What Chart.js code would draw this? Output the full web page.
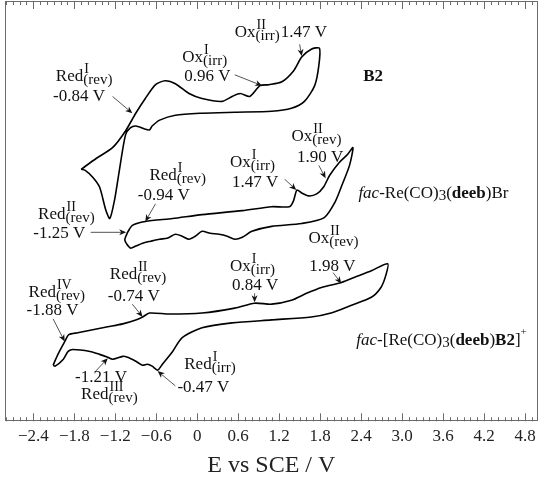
<!DOCTYPE html>
<html>
<head>
<meta charset="utf-8">
<script src="https://cdn.jsdelivr.net/npm/chart.js@4/dist/chart.umd.min.js"></script>
<style>
  body { margin: 0; background: #fff; }
  #cv { display: block; }
</style>
</head>
<body>
<canvas id="cv" width="540" height="478"></canvas>
<script>
// potentials (V vs SCE) and current (arbitrary, curves offset vertically)
var b2E = [-1.70, -1.48, -1.24, -1.05, -0.90, -0.76, -0.61, -0.47, -0.32, -0.12, 0.07, 0.36, 0.51, 0.63, 0.77, 0.92, 1.05, 1.24, 1.41, 1.53, 1.67, 1.79,
           1.78, 1.72, 1.57, 1.38, 1.09, 0.55, 0.07, -0.32, -0.55, -0.66, -0.70, -0.77, -0.90, -0.98, -1.05, -1.14, -1.21, -1.28, -1.34, -1.43, -1.53, -1.64, -1.70];
var b2I = [256, 267, 278, 295, 313, 328, 342, 346, 343, 333, 328, 325, 330, 333, 330, 341, 342, 345, 356, 370, 378, 379,
           361, 341, 325, 318, 315, 314, 313, 311, 306, 300, 296, 297, 300, 298, 291, 255, 225, 206, 215, 238, 248, 255, 256];

var brE = [-1.02, -0.95, -0.76, -0.36, 0.07, 0.66, 1.09, 1.35, 1.41, 1.46, 1.53, 1.63, 1.75, 1.85, 1.94, 2.08, 2.20, 2.28,
           2.23, 2.12, 2.02, 1.86, 1.53, 1.09, 0.80, 0.66, 0.55, 0.44, 0.32, 0.19, 0.07, -0.03, -0.12, -0.22, -0.32, -0.44, -0.55, -0.68, -0.80, -0.90, -0.98, -1.06, -1.02];
var brI = [192, 199, 203, 206, 210, 214, 218, 218, 224, 235, 232, 229, 231, 238, 250, 263, 271, 278,
           260, 240, 223, 207, 201, 198, 193, 187, 185, 188, 190, 191, 193, 188, 185, 188, 190, 186, 185, 183, 181, 178, 176, 184, 192];

var cxE = [-2.11, -2.04, -1.94, -1.88, -1.75, -1.53, -1.31, -1.09, -0.90, -0.80, -0.70, -0.41, 0.07, 0.55, 0.84, 1.09, 1.38, 1.60, 1.82, 2.11, 2.33, 2.55, 2.79,
           2.76, 2.69, 2.55, 2.26, 1.96, 1.67, 1.09, 0.51, 0.07, -0.22, -0.36, -0.51, -0.58, -0.66, -0.73, -0.80, -0.90, -1.02, -1.09, -1.24, -1.31, -1.43, -1.57, -1.82, -1.89, -1.96, -2.08, -2.11];
var cxI = [57, 68, 81, 88, 90, 93, 96, 99, 103, 106, 110, 109, 110, 115, 120, 119, 123, 130, 136, 141, 147, 153, 160,
           148, 136, 126, 118, 110, 106, 103, 100, 95, 85, 71, 58, 52, 56, 58, 57, 61, 65, 66, 63, 65, 68, 71, 73, 71, 63, 56, 57];

var majorTicks = [-2.4, -1.8, -1.2, -0.6, 0, 0.6, 1.2, 1.8, 2.4, 3.0, 3.6, 4.2, 4.8];
var tickLabels = ['\u22122.4', '\u22121.8', '\u22121.2', '\u22120.6', '0', '0.6', '1.2', '1.8', '2.4', '3.0', '3.6', '4.2', '4.8'];

var SERIF = '"Liberation Serif", "DejaVu Serif", serif';

function pts(xs, ys) {
    return xs.map(function(x, i) { return {x: x, y: ys[i]}; });
}

// labels: left/baseline in data units
var notes = [
    {x: -2.07, y: 346, parts: [{t: 'Red'}, {sup: 'I', sub: '(rev)'}]},
    {x: -2.11, y: 325, parts: [{t: '-0.84 V'}]},
    {x: -0.22, y: 365, parts: [{t: 'Ox'}, {sup: 'I', sub: '(irr)'}]},
    {x: -0.19, y: 346, parts: [{t: '0.96 V'}]},
    {x: 0.55, y: 390, parts: [{t: 'Ox'}, {sup: 'II', sub: '(irr)'}, {t: '1.47 V'}]},
    {x: 2.43, y: 346, parts: [{t: 'B2', b: true}]},

    {x: -0.70, y: 245, parts: [{t: 'Red'}, {sup: 'I', sub: '(rev)'}]},
    {x: -0.87, y: 225, parts: [{t: '-0.94 V'}]},
    {x: 0.48, y: 258, parts: [{t: 'Ox'}, {sup: 'I', sub: '(irr)'}]},
    {x: 0.51, y: 238, parts: [{t: '1.47 V'}]},
    {x: 1.38, y: 285, parts: [{t: 'Ox'}, {sup: 'II', sub: '(rev)'}]},
    {x: 1.46, y: 263, parts: [{t: '1.90 V'}]},
    {x: -2.33, y: 206, parts: [{t: 'Red'}, {sup: 'II', sub: '(rev)'}]},
    {x: -2.40, y: 186, parts: [{t: '-1.25 V'}]},
    {x: 2.36, y: 227, parts: [{t: 'fac', i: true}, {t: '-Re(CO)'}, {t: '3', s: 15, dy: 2}, {t: '('}, {t: 'deeb', b: true}, {t: ')Br'}]},

    {x: -2.47, y: 126, parts: [{t: 'Red'}, {sup: 'IV', sub: '(rev)'}]},
    {x: -2.50, y: 108, parts: [{t: '-1.88 V'}]},
    {x: -1.28, y: 145, parts: [{t: 'Red'}, {sup: 'II', sub: '(rev)'}]},
    {x: -1.31, y: 122, parts: [{t: '-0.74 V'}]},
    {x: 0.48, y: 153, parts: [{t: 'Ox'}, {sup: 'I', sub: '(irr)'}]},
    {x: 0.51, y: 133, parts: [{t: '0.84 V'}]},
    {x: 1.63, y: 181, parts: [{t: 'Ox'}, {sup: 'II', sub: '(rev)'}]},
    {x: 1.64, y: 153, parts: [{t: '1.98 V'}]},
    {x: 2.33, y: 78, parts: [{t: 'fac', i: true}, {t: '-[Re(CO)'}, {t: '3', s: 15, dy: 2}, {t: '('}, {t: 'deeb', b: true}, {t: ')'}, {t: 'B2', b: true}, {t: ']'}, {t: '+', s: 11, dy: -10}]},
    {x: -1.79, y: 40, parts: [{t: '-1.21 V'}]},
    {x: -1.70, y: 23, parts: [{t: 'Red'}, {sup: 'III', sub: '(rev)'}]},
    {x: -0.19, y: 53, parts: [{t: 'Red'}, {sup: 'I', sub: '(irr)'}]},
    {x: -0.29, y: 30, parts: [{t: '-0.47 V'}]}
];

// arrows: [tailE, tailY, tipE, tipY]
var arrows = [
    [-1.24, 330, -0.95, 313],
    [0.55, 352, 0.95, 341],
    [1.50, 383, 1.53, 371],
    [-0.61, 221, -0.76, 203],
    [1.28, 246, 1.45, 235],
    [1.78, 260, 1.88, 247],
    [-1.56, 192, -1.04, 192],
    [-2.11, 104, -1.94, 81],
    [-0.95, 119, -0.80, 106],
    [0.84, 130, 0.84, 121],
    [1.99, 151, 2.11, 140],
    [-1.50, 50, -1.31, 64],
    [-0.32, 36, -0.58, 51]
];

function drawRich(ctx, x, y, parts) {
    var cx = x;
    parts.forEach(function(p) {
        if (p.sup !== undefined) {
            ctx.font = '14px ' + SERIF;
            ctx.fillText(p.sup, cx + 1, y - 8);
            var w1 = ctx.measureText(p.sup).width + 1;
            ctx.font = '15px ' + SERIF;
            ctx.fillText(p.sub, cx, y + 3);
            var w2 = ctx.measureText(p.sub).width;
            cx += Math.max(w1, w2) + 1;
        } else {
            ctx.font = (p.i ? 'italic ' : '') + (p.b ? 'bold ' : '') + (p.s || 17) + 'px ' + SERIF;
            ctx.fillText(p.t, cx, y + (p.dy || 0));
            cx += ctx.measureText(p.t).width;
        }
    });
}

var decor = {
    id: 'decor',
    afterDatasetsDraw: function(chart) {
        var ctx = chart.ctx, a = chart.chartArea;
        var xs = chart.scales.x, ys = chart.scales.y;
        ctx.save();
        // frame
        ctx.strokeStyle = '#6b6b6b';
        ctx.lineWidth = 1;
        ctx.strokeRect(Math.round(a.left) + 0.5, Math.round(a.top) + 0.5, Math.round(a.right - a.left) - 1, Math.round(a.bottom - a.top) - 1);
        // inward tick marks top and bottom
        xs.ticks.forEach(function(t) {
            var px = Math.round(xs.getPixelForValue(t.value)) + 0.5;
            var major = majorTicks.some(function(m) { return Math.abs(m - t.value) < 1e-6; });
            var len = major ? 8 : 4;
            ctx.beginPath();
            ctx.moveTo(px, a.bottom); ctx.lineTo(px, a.bottom - len);
            ctx.moveTo(px, a.top); ctx.lineTo(px, a.top + len);
            ctx.stroke();
        });
        // arrows
        arrows.forEach(function(ar) {
            var x1 = xs.getPixelForValue(ar[0]), y1 = ys.getPixelForValue(ar[1]);
            var x2 = xs.getPixelForValue(ar[2]), y2 = ys.getPixelForValue(ar[3]);
            var ang = Math.atan2(y2 - y1, x2 - x1);
            ctx.strokeStyle = '#555';
            ctx.lineWidth = 1;
            ctx.beginPath();
            ctx.moveTo(x1, y1);
            ctx.lineTo(x2 - 5 * Math.cos(ang), y2 - 5 * Math.sin(ang));
            ctx.stroke();
            ctx.fillStyle = '#111';
            ctx.beginPath();
            ctx.moveTo(x2, y2);
            ctx.lineTo(x2 - 7 * Math.cos(ang) + 3 * Math.sin(ang), y2 - 7 * Math.sin(ang) - 3 * Math.cos(ang));
            ctx.lineTo(x2 - 5 * Math.cos(ang), y2 - 5 * Math.sin(ang));
            ctx.lineTo(x2 - 7 * Math.cos(ang) - 3 * Math.sin(ang), y2 - 7 * Math.sin(ang) + 3 * Math.cos(ang));
            ctx.closePath();
            ctx.fill();
        });
        // labels
        ctx.fillStyle = '#111';
        ctx.textBaseline = 'alphabetic';
        ctx.textAlign = 'left';
        notes.forEach(function(n) {
            drawRich(ctx, xs.getPixelForValue(n.x), ys.getPixelForValue(n.y), n.parts);
        });
        ctx.restore();
    }
};

function line(data) {
    return {
        data: data,
        showLine: true,
        borderColor: '#000',
        borderWidth: 1.6,
        pointRadius: 0,
        tension: 0.25,
        fill: false
    };
}

new Chart(document.getElementById('cv'), {
    type: 'scatter',
    data: {
        datasets: [line(pts(b2E, b2I)), line(pts(brE, brI)), line(pts(cxE, cxI))]
    },
    options: {
        responsive: false,
        animation: false,
        devicePixelRatio: 1,
        layout: { padding: { left: 1, right: 2, top: 1, bottom: 0 } },
        plugins: { legend: { display: false }, tooltip: { enabled: false } },
        scales: {
            x: {
                type: 'linear',
                min: -2.82,
                max: 4.99,
                afterBuildTicks: function(s) {
                    var t = [];
                    for (var i = -28; i <= 49; i++) t.push({value: i / 10});
                    s.ticks = t;
                },
                grid: { display: false, drawTicks: false },
                border: { display: false },
                ticks: {
                    autoSkip: false,
                    maxRotation: 0,
                    padding: 6,
                    color: '#222',
                    font: { family: SERIF, size: 17, lineHeight: 1.1 },
                    callback: function(v) {
                        for (var k = 0; k < majorTicks.length; k++) {
                            if (Math.abs(majorTicks[k] - v) < 1e-6) return tickLabels[k];
                        }
                        return '';
                    }
                },
                title: {
                    display: true,
                    text: 'E vs SCE / V',
                    color: '#222',
                    font: { family: SERIF, size: 24, lineHeight: 1.0 },
                    padding: { top: 2, bottom: 0 }
                }
            },
            y: { display: false, min: 0, max: 427 }
        }
    },
    plugins: [decor]
});
</script>
</body>
</html>
